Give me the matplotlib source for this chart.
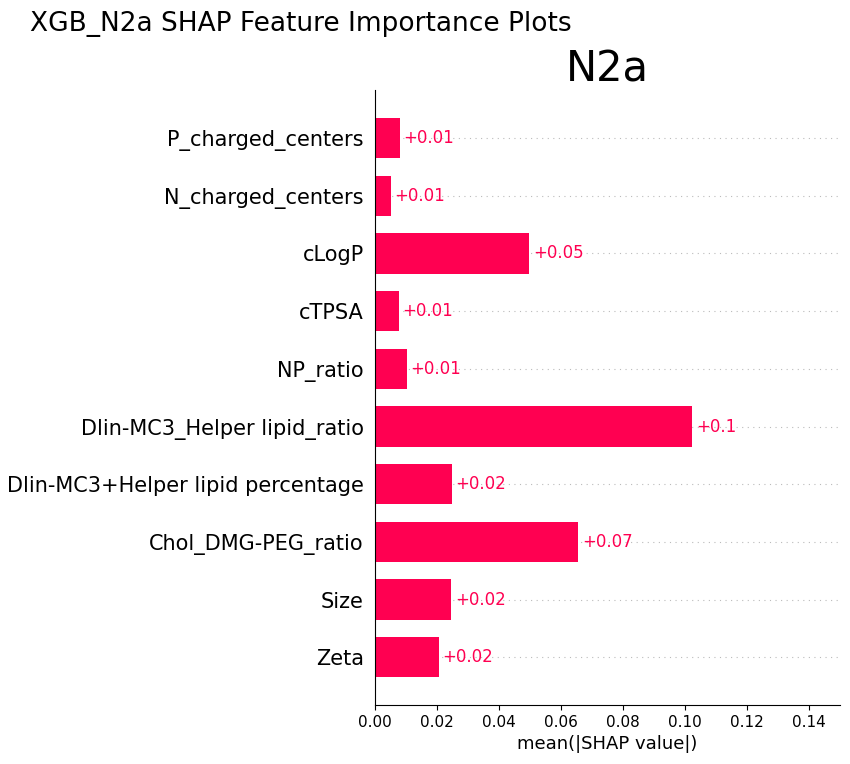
import numpy as np
import matplotlib
matplotlib.use("Agg")
import matplotlib.pyplot as plt

# features top to bottom, mean |SHAP|
features = ["P_charged_centers", "N_charged_centers", "cLogP", "cTPSA", "NP_ratio",
            "Dlin-MC3_Helper lipid_ratio", "Dlin-MC3+Helper lipid percentage",
            "Chol_DMG-PEG_ratio", "Size", "Zeta"]
values = [0.0081, 0.0052, 0.0498, 0.0078, 0.0103, 0.1024, 0.0248, 0.0656, 0.0247, 0.0207]

red = "#ff0051"

fig = plt.figure(figsize=(8.5, 7.64), dpi=100)
ax = fig.add_axes([0.441, 0.077, 0.547, 0.805])

n = len(features)
ypos = np.arange(n)[::-1]

for y in ypos:
    ax.axhline(y, color="#bbbbbb", lw=0.8, dashes=(1, 4), zorder=-1)

ax.barh(ypos, values, height=0.7, color=red, align="center")

for y, v in zip(ypos, values):
    lab = ("%+.2f" % v).rstrip("0")
    ax.text(v + 0.0012, y, lab, ha="left", va="center", color=red, fontsize=12)

ax.set_yticks(ypos)
ax.set_yticklabels(features, fontsize=15)
ax.tick_params(axis="y", length=0, pad=8)
ax.tick_params(axis="x", labelsize=11)
ax.set_xlim(0, 0.15)
ax.set_ylim(-0.83, n - 1 + 0.83)
ax.set_xticks(np.arange(0, 0.15, 0.02))
ax.set_xlabel("mean(|SHAP value|)", fontsize=13)

ax.spines["top"].set_visible(False)
ax.spines["right"].set_visible(False)

ax.set_title("N2a", fontsize=30, pad=6)
fig.text(0.035, 0.969, "XGB_N2a SHAP Feature Importance Plots", fontsize=19,
         ha="left", va="center")

fig.savefig("out.png", dpi=100)
